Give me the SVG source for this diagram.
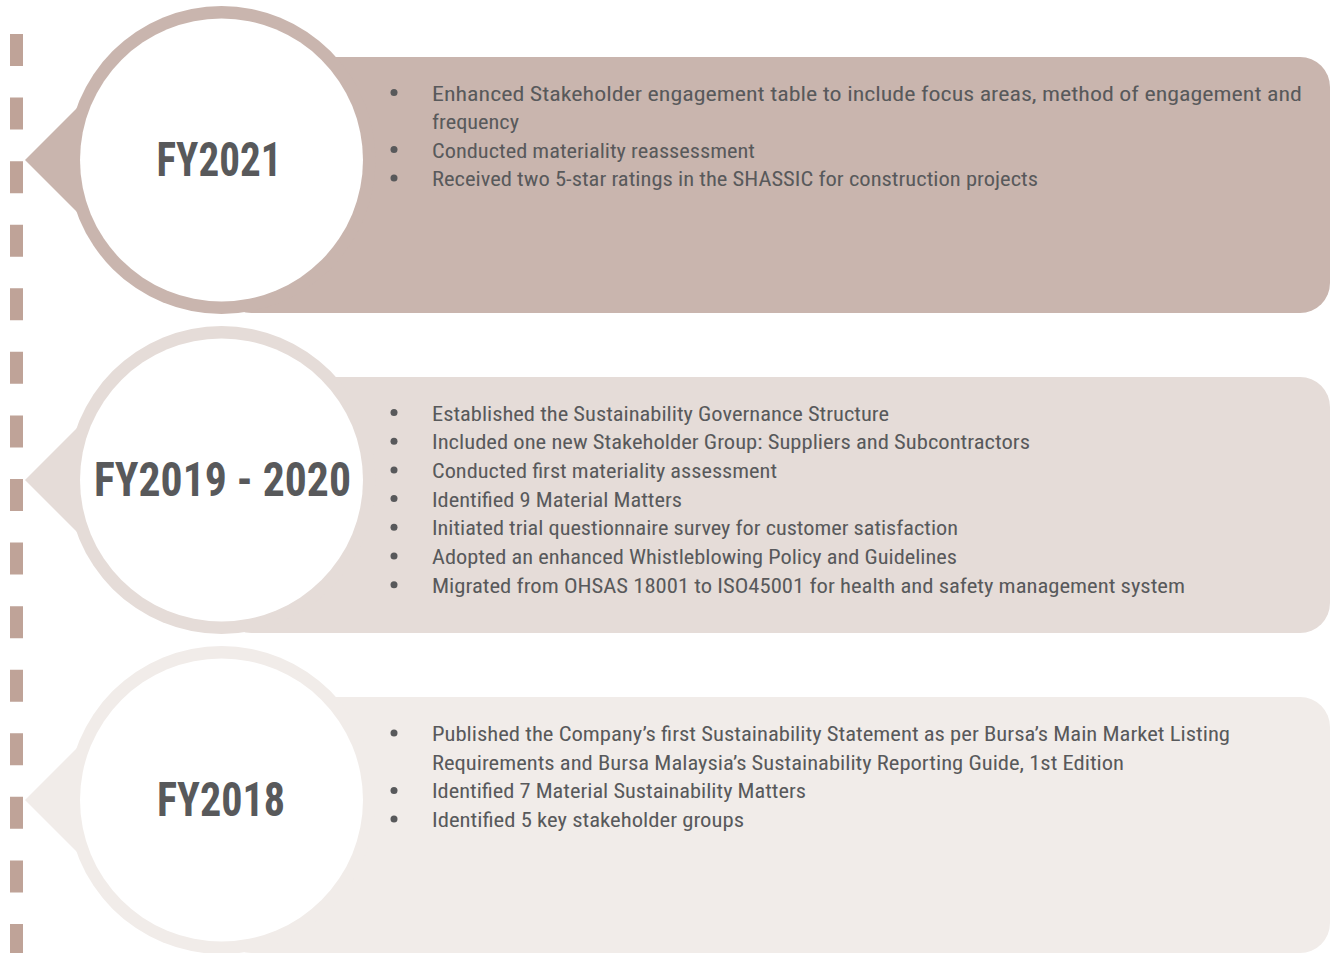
<svg xmlns="http://www.w3.org/2000/svg" width="1330" height="953" viewBox="0 0 1330 953">
<style>
.body{font-family:"Liberation Sans Narrow","Roboto Condensed","DejaVu Sans Condensed",Roboto,sans-serif;font-size:21px;fill:#58595B;font-stretch:condensed}
.title{font-family:"Liberation Sans Narrow","Roboto Condensed","DejaVu Sans Condensed",Roboto,sans-serif;font-size:49px;font-weight:bold;fill:#58595B;font-stretch:condensed;text-anchor:middle}
.bul{fill:#58595B}
.inner{fill:#FFFFFF}
</style>
<rect width="1330" height="953" fill="#FFFFFF"/>
<g id="timeline-connectors">
<line x1="16.5" y1="34" x2="16.5" y2="953" stroke="#BFA398" stroke-width="13" stroke-dasharray="32 31.57"/>
</g>
<g id="fy2021" fill="#C9B5AE">
<rect x="221.5" y="57" width="1108.5" height="256" rx="30"/>
<circle cx="221.5" cy="160" r="154"/>
<polygon points="25,160 82,103 82,217"/>
<circle class="inner" cx="221.5" cy="160" r="141.5"/>
<text class="title" x="219" y="175.5" textLength="125" lengthAdjust="spacingAndGlyphs">FY2021</text>
<circle class="bul" cx="394" cy="92.5" r="3.5"/>
<circle class="bul" cx="394" cy="149.5" r="3.5"/>
<circle class="bul" cx="394" cy="178" r="3.5"/>
<text class="body" x="432" y="100.5" textLength="870" lengthAdjust="spacingAndGlyphs">Enhanced Stakeholder engagement table to include focus areas, method of engagement and</text>
<text class="body" x="432" y="129" textLength="87" lengthAdjust="spacingAndGlyphs">frequency</text>
<text class="body" x="432" y="157.5" textLength="323" lengthAdjust="spacingAndGlyphs">Conducted materiality reassessment</text>
<text class="body" x="432" y="186" textLength="606" lengthAdjust="spacingAndGlyphs">Received two 5-star ratings in the SHASSIC for construction projects</text>
</g>
<g id="fy2019-2020" fill="#E5DCD8">
<rect x="221.5" y="377" width="1108.5" height="256" rx="30"/>
<circle cx="221.5" cy="480" r="154"/>
<polygon points="25,480 82,423 82,537"/>
<circle class="inner" cx="221.5" cy="480" r="141.5"/>
<text class="title" x="222.5" y="495.5" textLength="257" lengthAdjust="spacingAndGlyphs">FY2019 - 2020</text>
<circle class="bul" cx="394" cy="412.5" r="3.5"/>
<circle class="bul" cx="394" cy="441.2" r="3.5"/>
<circle class="bul" cx="394" cy="469.9" r="3.5"/>
<circle class="bul" cx="394" cy="498.6" r="3.5"/>
<circle class="bul" cx="394" cy="527.3" r="3.5"/>
<circle class="bul" cx="394" cy="556" r="3.5"/>
<circle class="bul" cx="394" cy="584.7" r="3.5"/>
<text class="body" x="432" y="420.5" textLength="457" lengthAdjust="spacingAndGlyphs">Established the Sustainability Governance Structure</text>
<text class="body" x="432" y="449.2" textLength="598" lengthAdjust="spacingAndGlyphs">Included one new Stakeholder Group: Suppliers and Subcontractors</text>
<text class="body" x="432" y="477.9" textLength="345" lengthAdjust="spacingAndGlyphs">Conducted first materiality assessment</text>
<text class="body" x="432" y="506.6" textLength="250" lengthAdjust="spacingAndGlyphs">Identified 9 Material Matters</text>
<text class="body" x="432" y="535.3" textLength="526" lengthAdjust="spacingAndGlyphs">Initiated trial questionnaire survey for customer satisfaction</text>
<text class="body" x="432" y="564" textLength="525" lengthAdjust="spacingAndGlyphs">Adopted an enhanced Whistleblowing Policy and Guidelines</text>
<text class="body" x="432" y="592.7" textLength="753" lengthAdjust="spacingAndGlyphs">Migrated from OHSAS 18001 to ISO45001 for health and safety management system</text>
</g>
<g id="fy2018" fill="#F1ECE9">
<rect x="221.5" y="697" width="1108.5" height="256" rx="30"/>
<circle cx="221.5" cy="800" r="154"/>
<polygon points="25,800 82,743 82,857"/>
<circle class="inner" cx="221.5" cy="800" r="141.5"/>
<text class="title" x="221" y="815.5" textLength="128" lengthAdjust="spacingAndGlyphs">FY2018</text>
<circle class="bul" cx="394" cy="733" r="3.5"/>
<circle class="bul" cx="394" cy="790.4" r="3.5"/>
<circle class="bul" cx="394" cy="819" r="3.5"/>
<text class="body" x="432" y="741" textLength="798" lengthAdjust="spacingAndGlyphs">Published the Company’s first Sustainability Statement as per Bursa’s Main Market Listing</text>
<text class="body" x="432" y="769.7" textLength="692" lengthAdjust="spacingAndGlyphs">Requirements and Bursa Malaysia’s Sustainability Reporting Guide, 1st Edition</text>
<text class="body" x="432" y="798.4" textLength="374" lengthAdjust="spacingAndGlyphs">Identified 7 Material Sustainability Matters</text>
<text class="body" x="432" y="827" textLength="312" lengthAdjust="spacingAndGlyphs">Identified 5 key stakeholder groups</text>
</g>
</svg>
